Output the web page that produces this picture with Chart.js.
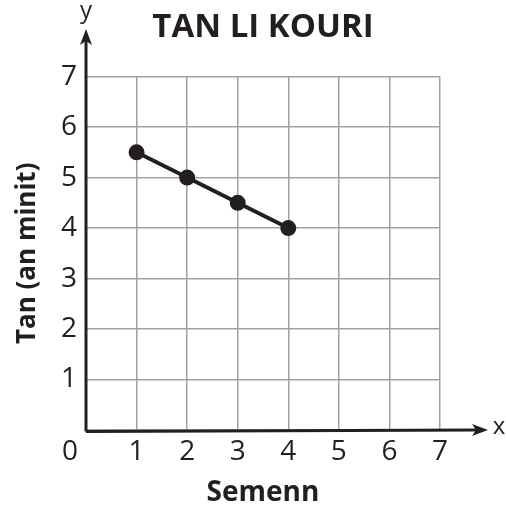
<!DOCTYPE html>
<html>
<head>
<meta charset="utf-8">
<script src="https://cdn.jsdelivr.net/npm/chart.js@4"></script>
<style>
  html, body { margin: 0; padding: 0; background: #fff; }
  #wrap { width: 506px; height: 511px; }
</style>
</head>
<body>
<div id="wrap"><canvas id="chart-tan-li-kouri"></canvas></div>
<script>
// semenn (x) and tan an minit (y)
const weeks = [1, 2, 3, 4];
const minutes = [5.5, 5, 4.5, 4];
const xTicks = [0, 1, 2, 3, 4, 5, 6, 7];
const yTicks = [0, 1, 2, 3, 4, 5, 6, 7];

const ink = "#231f20";
const fontFamily = "'Open Sans', 'Noto Sans', sans-serif";

// axes with arrows, plus the x / y / 0 labels
const axisArrows = {
  id: "axisArrows",
  afterDraw(chart) {
    const { ctx, chartArea } = chart;
    const x0 = chartArea.left;
    const y0 = chartArea.bottom;
    ctx.save();
    ctx.strokeStyle = ink;
    ctx.fillStyle = ink;
    ctx.lineWidth = 3;
    ctx.lineCap = "butt";

    ctx.beginPath();
    ctx.moveTo(x0, y0 + 1.5);
    ctx.lineTo(478, y0);
    ctx.moveTo(x0, y0 + 1.5);
    ctx.lineTo(x0, 40);
    ctx.stroke();

    // arrow heads
    ctx.beginPath();
    ctx.moveTo(488, y0);
    ctx.lineTo(472, y0 - 6);
    ctx.lineTo(476, y0);
    ctx.lineTo(472, y0 + 6);
    ctx.closePath();
    ctx.fill();

    ctx.beginPath();
    ctx.moveTo(x0, 29);
    ctx.lineTo(x0 - 6, 45);
    ctx.lineTo(x0, 41);
    ctx.lineTo(x0 + 6, 45);
    ctx.closePath();
    ctx.fill();

    ctx.font = "24px " + fontFamily;
    ctx.textAlign = "center";
    ctx.textBaseline = "middle";
    ctx.fillText("x", 499, y0 - 3);
    ctx.fillText("y", x0, 11);

    ctx.font = "28px " + fontFamily;
    ctx.fillText("0", 70, 452);
    ctx.restore();
  },
};

const ctx = document.getElementById("chart-tan-li-kouri").getContext("2d");
const chart = new Chart(ctx, {
  type: "scatter",
  data: {
    datasets: [
      {
        data: weeks.map((w, i) => ({ x: w, y: minutes[i] })),
        showLine: true,
        borderColor: ink,
        backgroundColor: ink,
        borderWidth: 4,
        pointRadius: 6,
        pointHoverRadius: 6,
      },
    ],
  },
  options: {
    responsive: true,
    maintainAspectRatio: false,
    animation: false,
    layout: { padding: { left: 0, right: 66, top: 0, bottom: 0 } },
    plugins: {
      legend: { display: false },
      tooltip: { enabled: false },
      title: {
        display: true,
        fullSize: false,
        text: "TAN LI KOURI",
        color: ink,
        font: { family: fontFamily, size: 33, weight: "bold" },
        padding: { top: 8, bottom: 29 },
      },
    },
    scales: {
      x: {
        type: "linear",
        min: 0,
        max: 7,
        afterBuildTicks: (scale) => {
          scale.ticks = xTicks.map((v) => ({ value: v }));
        },
        afterFit: (scale) => {
          scale.height = 81;
        },
        grid: { color: "#a0a2a5", lineWidth: 1.5, drawTicks: false },
        border: { display: false },
        ticks: {
          color: ink,
          padding: 5,
          font: { family: fontFamily, size: 28 },
          callback: (v) => (v === 0 ? "" : v),
        },
        title: {
          display: true,
          text: "Semenn",
          color: ink,
          font: { family: fontFamily, size: 28, weight: "bold" },
          padding: { top: 0, bottom: 1 },
        },
      },
      y: {
        type: "linear",
        min: 0,
        max: 7,
        afterBuildTicks: (scale) => {
          scale.ticks = yTicks.map((v) => ({ value: v }));
        },
        afterFit: (scale) => {
          scale.width = 86;
        },
        grid: { color: "#a0a2a5", lineWidth: 1.5, drawTicks: false },
        border: { display: false },
        ticks: {
          color: ink,
          padding: 9,
          font: { family: fontFamily, size: 28 },
          callback: (v) => (v === 0 ? "" : v),
        },
        title: {
          display: true,
          text: "Tan (an minit)",
          color: ink,
          font: { family: fontFamily, size: 26, weight: "bold" },
          padding: { top: 12, bottom: 0 },
        },
      },
    },
  },
  plugins: [axisArrows],
});
</script>
</body>
</html>
